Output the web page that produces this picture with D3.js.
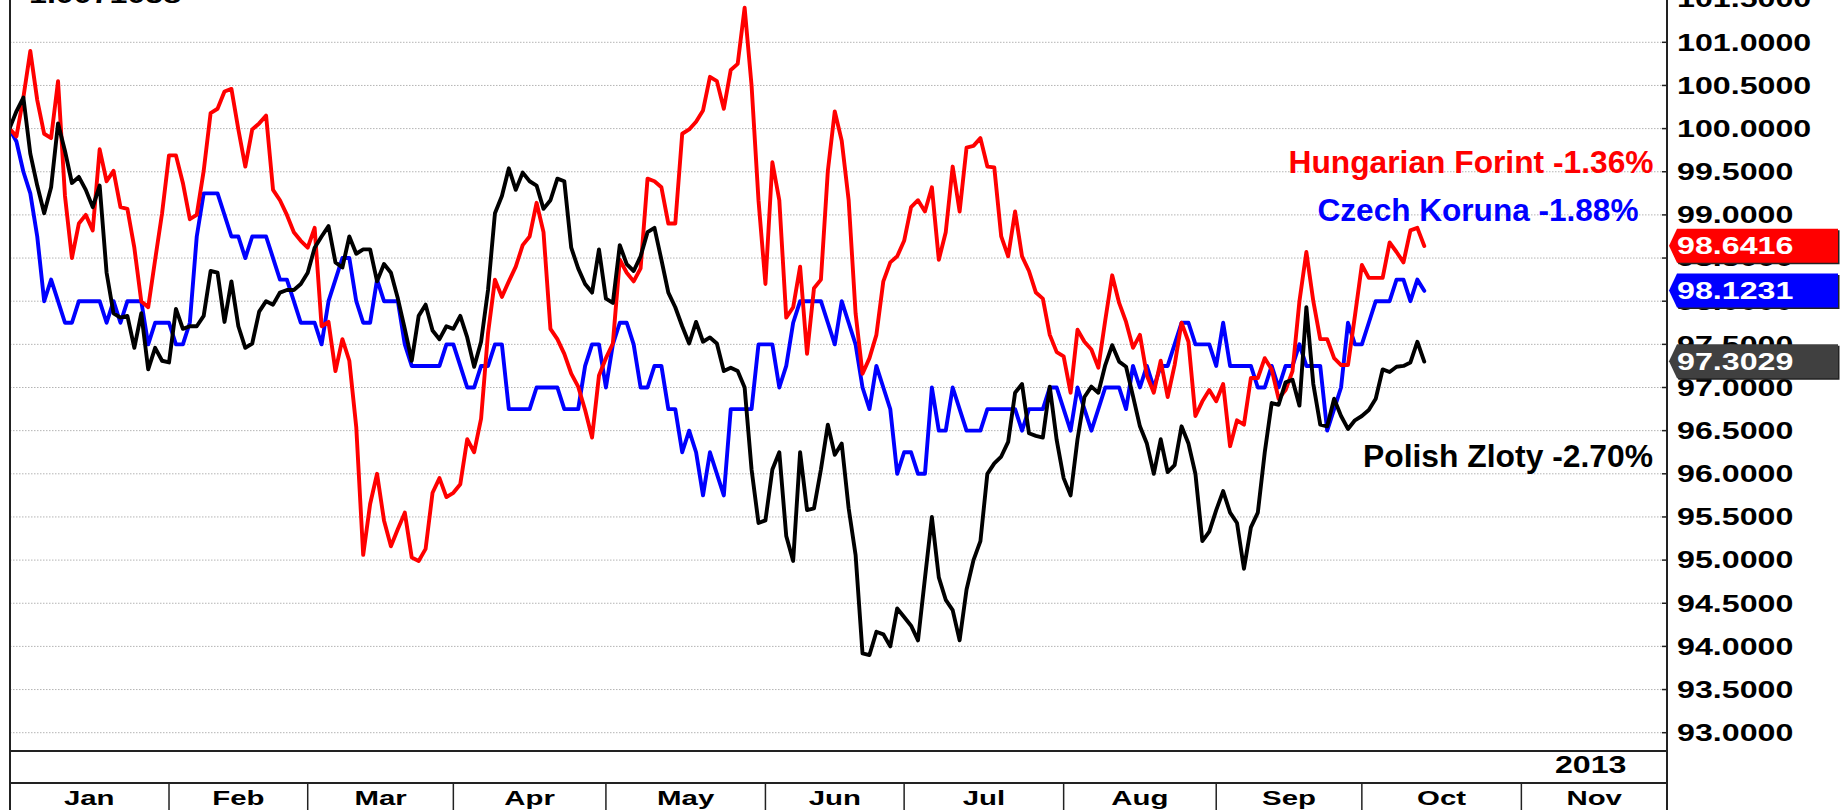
<!DOCTYPE html>
<html>
<head>
<meta charset="utf-8">
<script src="https://cdn.jsdelivr.net/npm/d3@7"></script>
<style>
  html, body { margin: 0; padding: 0; background: #fff; }
  svg { display: block; font-family: "Liberation Sans", Arial, sans-serif; font-weight: bold; }
</style>
</head>
<body>
<div class="chart-container"></div>
<script>
// 2013 currency performance, indexed to 100 on the first trading day (one value per weekday)
const hungary = [
  100.00, 99.91, 100.36, 100.90, 100.33, 99.94, 99.89, 100.55, 99.22, 98.50,
  98.90, 99.00, 98.82, 99.76, 99.39, 99.51, 99.09, 99.07, 98.62, 98.00,
  97.93, 98.48, 99.02, 99.69, 99.69, 99.37, 98.95, 99.00, 99.51, 100.18,
  100.23, 100.43, 100.46, 99.99, 99.56, 99.99, 100.06, 100.15, 99.29, 99.17,
  99.00, 98.80, 98.70, 98.62, 98.85, 97.71, 97.76, 97.19, 97.56, 97.31,
  96.54, 95.06, 95.65, 96.00, 95.46, 95.16, 95.36, 95.55, 95.03, 94.99,
  95.13, 95.78, 95.95, 95.73, 95.78, 95.88, 96.40, 96.25, 96.64, 97.63,
  98.25, 98.05, 98.23, 98.40, 98.65, 98.75, 99.14, 98.80, 97.68, 97.56,
  97.39, 97.16, 97.01, 96.74, 96.42, 97.14, 97.34, 97.51, 98.48, 98.33,
  98.23, 98.38, 99.42, 99.39, 99.32, 98.90, 98.90, 99.94, 99.99, 100.08,
  100.21, 100.60, 100.55, 100.23, 100.68, 100.75, 101.40, 100.50, 99.17, 98.20,
  99.61, 99.17, 97.81, 97.93, 98.40, 97.39, 98.15, 98.25, 99.51, 100.20,
  99.86, 99.17, 97.86, 97.16, 97.34, 97.61, 98.23, 98.45, 98.52, 98.70,
  99.09, 99.17, 99.04, 99.32, 98.48, 98.80, 99.56, 99.04, 99.78, 99.80,
  99.89, 99.56, 99.55, 98.75, 98.52, 99.04, 98.52, 98.35, 98.10, 98.03,
  97.61, 97.41, 97.36, 96.94, 97.67, 97.53, 97.44, 97.23, 97.78, 98.30,
  97.98, 97.76, 97.46, 97.61, 97.14, 96.94, 97.31, 96.89, 97.26, 97.75,
  97.53, 96.67, 96.84, 96.97, 96.84, 97.04, 96.32, 96.62, 96.57, 97.11,
  97.11, 97.34, 97.21, 96.87, 96.97, 97.19, 98.00, 98.57, 98.00, 97.56,
  97.56, 97.34, 97.26, 97.26, 97.83, 98.42, 98.27, 98.27, 98.27, 98.68,
  98.57, 98.45, 98.82, 98.85, 98.64
];

const czech = [
  100.00, 99.85, 99.50, 99.25, 98.75, 98.00, 98.25, 98.00, 97.75, 97.75,
  98.00, 98.00, 98.00, 98.00, 97.75, 98.00, 97.75, 98.00, 98.00, 98.00,
  97.50, 97.75, 97.75, 97.75, 97.50, 97.50, 97.75, 98.75, 99.25, 99.25,
  99.25, 99.00, 98.75, 98.75, 98.50, 98.75, 98.75, 98.75, 98.50, 98.25,
  98.25, 98.00, 97.75, 97.75, 97.75, 97.50, 98.00, 98.25, 98.50, 98.50,
  98.00, 97.75, 97.75, 98.25, 98.00, 98.00, 98.00, 97.50, 97.25, 97.25,
  97.25, 97.25, 97.25, 97.50, 97.50, 97.25, 97.00, 97.00, 97.25, 97.25,
  97.50, 97.50, 96.75, 96.75, 96.75, 96.75, 97.00, 97.00, 97.00, 97.00,
  96.75, 96.75, 96.75, 97.25, 97.50, 97.50, 97.00, 97.50, 97.75, 97.75,
  97.50, 97.00, 97.00, 97.25, 97.25, 96.75, 96.75, 96.25, 96.50, 96.25,
  95.75, 96.25, 96.00, 95.75, 96.75, 96.75, 96.75, 96.75, 97.50, 97.50,
  97.50, 97.00, 97.25, 97.75, 98.00, 98.00, 98.00, 98.00, 97.75, 97.50,
  98.00, 97.75, 97.50, 97.00, 96.75, 97.25, 97.00, 96.75, 96.00, 96.25,
  96.25, 96.00, 96.00, 97.00, 96.50, 96.50, 97.00, 96.75, 96.50, 96.50,
  96.50, 96.75, 96.75, 96.75, 96.75, 96.75, 96.50, 96.75, 96.75, 96.75,
  97.00, 97.00, 96.75, 96.50, 97.00, 96.75, 96.50, 96.75, 97.00, 97.00,
  97.00, 96.75, 97.25, 97.00, 97.25, 97.00, 97.25, 97.25, 97.50, 97.75,
  97.75, 97.50, 97.50, 97.50, 97.25, 97.75, 97.25, 97.25, 97.25, 97.25,
  97.00, 97.00, 97.25, 97.00, 97.25, 97.25, 97.50, 97.25, 97.25, 97.25,
  96.50, 96.75, 97.00, 97.75, 97.50, 97.50, 97.75, 98.00, 98.00, 98.00,
  98.25, 98.25, 98.00, 98.25, 98.12
];

const poland = [
  100.00, 100.20, 100.36, 99.71, 99.34, 99.02, 99.32, 100.06, 99.74, 99.37,
  99.44, 99.29, 99.09, 99.34, 98.33, 97.86, 97.81, 97.83, 97.46, 97.86,
  97.21, 97.46, 97.31, 97.29, 97.91, 97.68, 97.71, 97.71, 97.83, 98.35,
  98.33, 97.76, 98.23, 97.71, 97.46, 97.51, 97.88, 98.00, 97.96, 98.10,
  98.13, 98.13, 98.20, 98.33, 98.62, 98.75, 98.87, 98.45, 98.39, 98.75,
  98.55, 98.60, 98.60, 98.23, 98.43, 98.33, 98.03, 97.68, 97.31, 97.83,
  97.96, 97.66, 97.56, 97.71, 97.68, 97.83, 97.58, 97.24, 97.53, 98.13,
  99.02, 99.22, 99.54, 99.29, 99.49, 99.39, 99.34, 99.07, 99.17, 99.42,
  99.39, 98.62, 98.38, 98.20, 98.10, 98.60, 98.03, 97.98, 98.65, 98.43,
  98.35, 98.52, 98.80, 98.85, 98.48, 98.10, 97.93, 97.71, 97.51, 97.76,
  97.53, 97.58, 97.51, 97.19, 97.23, 97.19, 97.00, 96.05, 95.43, 95.46,
  96.05, 96.25, 95.28, 94.99, 96.25, 95.58, 95.60, 96.05, 96.57, 96.22,
  96.35, 95.60, 95.06, 93.92, 93.90, 94.17, 94.14, 94.00, 94.44, 94.34,
  94.24, 94.07, 94.79, 95.50, 94.80, 94.54, 94.42, 94.07, 94.66, 95.00,
  95.22, 96.00, 96.12, 96.20, 96.37, 96.94, 97.04, 96.47, 96.44, 96.42,
  97.01, 96.39, 95.95, 95.75, 96.40, 96.89, 97.01, 96.94, 97.26, 97.49,
  97.30, 97.24, 96.90, 96.55, 96.35, 96.00, 96.40, 96.02, 96.10, 96.55,
  96.35, 96.00, 95.22, 95.33, 95.58, 95.80, 95.55, 95.43, 94.90, 95.38,
  95.55, 96.25, 96.82, 96.80, 97.06, 97.09, 96.79, 97.93, 97.04, 96.57,
  96.55, 96.87, 96.67, 96.52, 96.62, 96.67, 96.74, 96.87, 97.21, 97.18,
  97.24, 97.25, 97.29, 97.53, 97.30
];

const seriesNames = ["Czech Koruna -1.88%", "Hungarian Forint -1.36%", "Polish Zloty -2.70%"];
const lastValues = ["98.1231", "98.6416", "97.3029"];
const months = ["Jan", "Feb", "Mar", "Apr", "May", "Jun", "Jul", "Aug", "Sep", "Oct", "Nov"];
const monthStart = [0, 23, 43, 64, 86, 109, 129, 152, 174, 195, 218, 239]; // weekday index of each month start
const yearLabel = "2013";
const yTicks = [93, 93.5, 94, 94.5, 95, 95.5, 96, 96.5, 97, 97.5, 98, 98.5, 99, 99.5, 100, 100.5, 101, 101.5];

const width = 1843;
const height = 810;
const plotLeft = 10;
const plotRight = 1667;
const plotBottom = 751;
const yearRowBottom = 783;
const stretch = 1.4; // axis lettering is drawn wide

const svg = d3.select(".chart-container").append("svg")
  .attr("width", width)
  .attr("height", height)
  .attr("viewBox", `0 0 ${width} ${height}`);

const x = d3.scaleLinear().domain([0, 239]).range([9.5, plotRight]);
const y = d3.scaleLinear().domain([93, 101]).range([732.7, 42.3]);

svg.append("clipPath").attr("id", "plot-clip")
  .append("rect")
  .attr("x", plotLeft).attr("y", 0)
  .attr("width", plotRight - plotLeft).attr("height", plotBottom);

// dotted grid
svg.append("g").attr("class", "grid")
  .selectAll("line")
  .data(yTicks)
  .enter()
  .append("line")
  .attr("x1", plotLeft)
  .attr("x2", plotRight - 5)
  .attr("y1", d => y(d))
  .attr("y2", d => y(d))
  .attr("stroke", "#b4b4b4")
  .attr("stroke-width", 1)
  .attr("stroke-dasharray", "1.5,1.5");

// ticks on the right border
svg.append("g")
  .selectAll("line")
  .data(yTicks)
  .enter()
  .append("line")
  .attr("x1", plotRight - 5)
  .attr("x2", plotRight)
  .attr("y1", d => y(d))
  .attr("y2", d => y(d))
  .attr("stroke", "#222")
  .attr("stroke-width", 1.5);

// right axis labels
svg.append("g").attr("class", "y-labels")
  .selectAll("g")
  .data(yTicks)
  .enter()
  .append("g")
  .attr("transform", d => `translate(1677, ${y(d) + 8.3})`)
  .append("text")
  .attr("transform", `scale(${stretch}, 1)`)
  .attr("font-size", 23)
  .attr("fill", "#000")
  .text(d => d.toFixed(4));

// top-left header fragment (mostly cut off by the top edge)
svg.append("g")
  .attr("transform", "translate(29, 3)")
  .append("text")
  .attr("transform", `scale(${stretch}, 1)`)
  .attr("font-size", 23)
  .text("1.0071058");

// series lines
const line = d3.line()
  .x((d, i) => x(i))
  .y(d => y(d));

const series = [
  { values: czech, color: "#0000ff", box: "#0000ff" },
  { values: hungary, color: "#ff0000", box: "#ff0000" },
  { values: poland, color: "#000000", box: "#404040" }
];

svg.append("g")
  .attr("clip-path", "url(#plot-clip)")
  .selectAll("path")
  .data(series)
  .enter()
  .append("path")
  .attr("d", d => line(d.values))
  .attr("fill", "none")
  .attr("stroke", d => d.color)
  .attr("stroke-width", 3.9)
  .attr("stroke-linejoin", "round")
  .attr("stroke-linecap", "round");

// series labels
const labelPos = [
  { right: 1638.5, base: 221, len: 321 },
  { right: 1653.5, base: 173, len: 365 },
  { right: 1653, base: 467, len: 290 }
];

svg.append("g")
  .selectAll("text")
  .data(series)
  .enter()
  .append("text")
  .attr("x", (d, i) => labelPos[i].right)
  .attr("y", (d, i) => labelPos[i].base)
  .attr("text-anchor", "end")
  .attr("font-size", 30.5)
  .attr("textLength", (d, i) => labelPos[i].len)
  .attr("lengthAdjust", "spacingAndGlyphs")
  .attr("fill", d => d.color)
  .text((d, i) => seriesNames[i]);

// last-value tags
const tags = svg.append("g")
  .selectAll("g")
  .data(series)
  .enter()
  .append("g")
  .attr("transform", (d, i) => `translate(0, ${y(+lastValues[i])})`);

const tagPoints = (dx, dy) => [
  [1669 + dx, 0 + dy], [1677 + dx, -17 + dy], [1838 + dx, -17 + dy],
  [1838 + dx, 17 + dy], [1677 + dx, 17 + dy]
].map(p => p.join(",")).join(" ");

tags.append("polygon")
  .attr("points", tagPoints(1.5, 1.5))
  .attr("fill", "#222");

tags.append("polygon")
  .attr("points", tagPoints(0, 0))
  .attr("fill", d => d.box);

tags.append("g")
  .attr("transform", "translate(1677, 8.3)")
  .append("text")
  .attr("transform", `scale(${stretch}, 1)`)
  .attr("font-size", 23)
  .attr("fill", "#fff")
  .text((d, i) => lastValues[i]);

// frame and time axis
const frame = svg.append("g")
  .attr("stroke", "#222")
  .attr("stroke-width", 2);

frame.append("line").attr("x1", plotLeft).attr("x2", plotLeft).attr("y1", 0).attr("y2", height);
frame.append("line").attr("x1", plotRight).attr("x2", plotRight).attr("y1", 0).attr("y2", height);
frame.append("line").attr("x1", plotLeft).attr("x2", plotRight).attr("y1", plotBottom).attr("y2", plotBottom);
frame.append("line").attr("x1", plotLeft).attr("x2", plotRight).attr("y1", yearRowBottom).attr("y2", yearRowBottom);

frame.selectAll(".month-divider")
  .data(monthStart.slice(1, -1))
  .enter()
  .append("line")
  .attr("class", "month-divider")
  .attr("x1", d => x(d))
  .attr("x2", d => x(d))
  .attr("y1", yearRowBottom)
  .attr("y2", height)
  .attr("stroke-width", 1.5);

svg.append("g")
  .selectAll("g")
  .data(months)
  .enter()
  .append("g")
  .attr("transform", (d, i) => `translate(${(x(monthStart[i]) + x(monthStart[i + 1])) / 2}, 805)`)
  .append("text")
  .attr("transform", `scale(${stretch}, 1)`)
  .attr("text-anchor", "middle")
  .attr("font-size", 21)
  .text(d => d);

svg.append("g")
  .attr("transform", `translate(${x(228)}, 773)`)
  .append("text")
  .attr("transform", `scale(${stretch}, 1)`)
  .attr("text-anchor", "middle")
  .attr("font-size", 23)
  .text(yearLabel);
</script>
</body>
</html>
